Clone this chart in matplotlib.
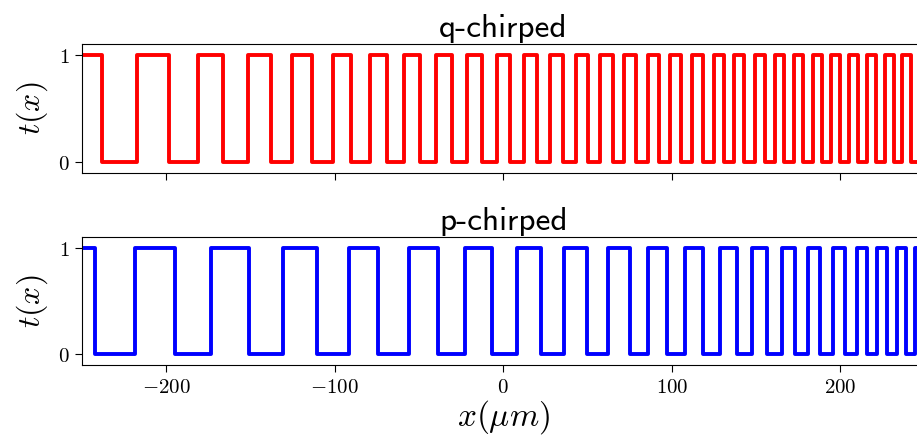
import numpy as np
import matplotlib.pyplot as plt
from matplotlib.ticker import FuncFormatter

plt.rcParams['mathtext.fontset'] = 'cm'

# transition positions (um), both start at t=1
x_start, x_end = -250, 250
q_edges = [-238.2, -217.0, -198.2, -181.2, -165.9, -151.1, -137.9, -125.2,
           -113.1, -101.1, -90.0, -79.1, -69.0, -58.9, -49.3, -39.9, -30.6,
           -21.7, -12.6, -3.9, 4.2, 12.3, 20.0, 27.7, 35.6, 43.1, 50.1, 57.6,
           64.9, 71.8, 78.8, 85.9, 92.4, 98.9, 105.5, 112.0, 118.3, 124.9,
           130.8, 136.9, 142.8, 149.6, 155.5, 161.1, 166.8, 172.5, 178.0,
           183.6, 189.1, 194.7, 200.0, 205.3, 210.7, 215.8, 221.2, 226.3,
           231.7, 236.8, 242.0]
p_edges = [-242.3, -218.6, -194.9, -173.1, -150.7, -130.6, -110.4, -91.4,
           -74.1, -55.8, -38.6, -22.7, -6.9, 8.0, 22.2, 36.0, 49.5, 62.3,
           75.2, 86.2, 97.4, 107.8, 118.3, 128.6, 138.5, 147.4, 156.3, 165.2,
           173.1, 181.0, 188.0, 195.8, 202.8, 209.7, 215.7, 222.0, 227.6,
           233.5, 239.0, 244.3]
xticks = [-200, -100, 0, 100, 200]


def square_wave(edges):
    xs = [x_start] + list(edges) + [x_end]
    ys = [(i + 1) % 2 for i in range(len(xs))]
    ys[-1] = ys[-2]
    return np.array(xs), np.array(ys)


math_fmt = FuncFormatter(lambda v, pos: r'$%d$' % round(v))

fig = plt.figure(figsize=(9.17, 4.47), dpi=100)
ax1 = fig.add_axes([0.0891, 0.6137, 0.9192, 0.2872])
ax2 = fig.add_axes([0.0891, 0.1834, 0.9192, 0.2857], sharex=ax1)

for ax, edges, color, title in [(ax1, q_edges, 'red', 'q-chirped'),
                                 (ax2, p_edges, 'blue', 'p-chirped')]:
    xs, ys = square_wave(edges)
    ax.plot(xs, ys, drawstyle='steps-post', color=color, lw=2.8)
    ax.set_xlim(x_start, x_end)
    ax.set_ylim(-0.1, 1.1)
    ax.set_yticks([0, 1])
    ax.set_xticks(xticks)
    ax.xaxis.set_major_formatter(math_fmt)
    ax.yaxis.set_major_formatter(math_fmt)
    ax.set_ylabel(r'$t(x)$', fontsize=23, labelpad=6)
    ax.set_title(title, fontsize=24, family='cmss10', pad=5)
    ax.tick_params(labelsize=15, length=5)

ax1.tick_params(labelbottom=False)
ax2.set_xlabel(r'$x(\mu m)$', fontsize=24, labelpad=1)

fig.savefig('out.png', dpi=100)
